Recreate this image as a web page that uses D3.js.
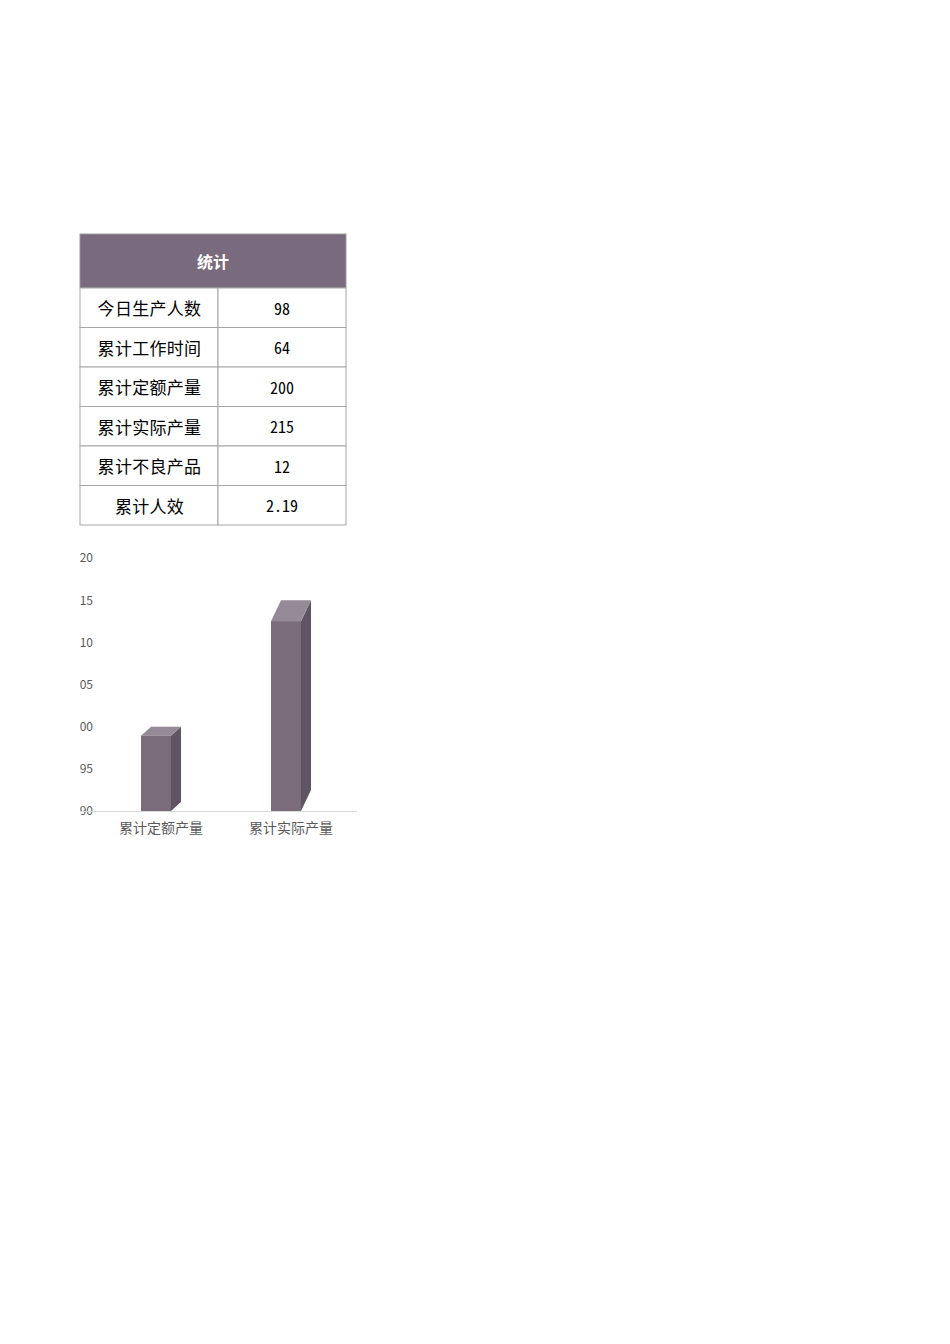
<!DOCTYPE html>
<html>
<head>
  <meta charset="utf-8">
  <script src="https://cdn.jsdelivr.net/npm/d3@7"></script>
  <style>
    body { margin: 0; background: #ffffff; }
    svg { display: block; }
    .cell { font-family: "Noto Sans CJK SC", sans-serif; font-size: 17px; letter-spacing: 0.3px; fill: #000; }
    .num { font-family: "Noto Sans Mono CJK SC", "DejaVu Sans Mono", monospace; font-size: 16px; fill: #000; }
    .axis text { font-family: "Noto Sans CJK SC", sans-serif; fill: #595959; }
  </style>
</head>
<body>
<script>
  // table data
  var tableTitle = '统计';
  var statLabels = ['今日生产人数', '累计工作时间', '累计定额产量', '累计实际产量', '累计不良产品', '累计人效'];
  var statValues = ['98', '64', '200', '215', '12', '2.19'];

  // chart data
  var categories = ['累计定额产量', '累计实际产量'];
  var values = [200, 215];
  var yTicks = [190, 195, 200, 205, 210, 215, 220];

  var W = 950, H = 1344;
  var svg = d3.select('body').append('svg')
      .attr('width', W)
      .attr('height', H);

  //---- table ----
  var tx = 80, tcol = 218, tright = 346,
      headTop = 234, headBottom = 288, rowH = 39.5;
  var headColor = '#796a7d', lineColor = '#a6a6a6';

  svg.append('rect')
     .attr('x', tx).attr('y', headTop)
     .attr('width', tright - tx).attr('height', headBottom - headTop)
     .attr('fill', headColor)
     .attr('stroke', '#9a9a9a');
  svg.append('text')
     .attr('x', (tx + tright) / 2).attr('y', (headTop + headBottom) / 2)
     .attr('text-anchor', 'middle').attr('dominant-baseline', 'central')
     .style('font-family', '"Noto Sans CJK SC", sans-serif')
     .style('font-size', '16px').style('font-weight', 'bold')
     .attr('fill', '#ffffff')
     .text(tableTitle);

  var rows = svg.selectAll('g.row')
      .data(statLabels)
      .enter().append('g')
      .attr('class', 'row')
      .attr('transform', function(d, i) { return 'translate(0,' + (headBottom + i * rowH) + ')'; });

  rows.append('rect')
      .attr('x', tx).attr('width', tcol - tx).attr('height', rowH)
      .attr('fill', '#fff').attr('stroke', lineColor);
  rows.append('rect')
      .attr('x', tcol).attr('width', tright - tcol).attr('height', rowH)
      .attr('fill', '#fff').attr('stroke', lineColor);
  rows.append('text')
      .attr('class', 'cell')
      .attr('x', (tx + tcol) / 2 + 0.5).attr('y', rowH / 2)
      .attr('text-anchor', 'middle').attr('dominant-baseline', 'central')
      .text(function(d) { return d; });
  rows.append('text')
      .attr('class', 'num')
      .attr('x', (tcol + tright) / 2).attr('y', rowH / 2)
      .attr('text-anchor', 'middle').attr('dominant-baseline', 'central')
      .text(function(d, i) { return statValues[i]; });

  //---- 3d column chart ----
  var y = d3.scaleLinear().domain([190, 220]).range([811, 558]);
  var x = d3.scaleBand().domain(categories).range([96, 356]);

  // chart area clipped at left edge (labels are cut off like the sheet)
  svg.append('clipPath').attr('id', 'chartclip')
     .append('rect').attr('x', 80).attr('y', 540).attr('width', 300).attr('height', 320);

  var chart = svg.append('g').attr('clip-path', 'url(#chartclip)');

  // y labels only, no axis line
  var yAxis = chart.append('g')
      .attr('class', 'axis')
      .attr('transform', 'translate(99,0)')
      .call(d3.axisLeft(y).tickValues(yTicks).tickSize(0).tickPadding(6));
  yAxis.select('.domain').remove();
  yAxis.selectAll('text').style('font-size', '12px');

  // base line
  chart.append('line')
       .attr('x1', 80).attr('x2', 357)
       .attr('y1', y(190) + 0.5).attr('y2', y(190) + 0.5)
       .attr('stroke', '#d9d9d9');

  // category labels
  var xAxis = chart.append('g')
      .attr('class', 'axis')
      .attr('transform', 'translate(0,' + y(190) + ')')
      .call(d3.axisBottom(x).tickSize(0).tickPadding(12));
  xAxis.select('.domain').remove();
  xAxis.selectAll('text').style('font-size', '14px');

  var frontW = 30, depthX = 10;
  function depthY(xr) { return 9 + (xr - 171) * 0.092; }  // perspective grows to the right

  var bars = chart.selectAll('g.bar')
      .data(values)
      .enter().append('g')
      .attr('class', 'bar');

  bars.each(function(v, i) {
    var g = d3.select(this);
    var c = x(categories[i]) + x.bandwidth() / 2;
    var x0 = c - 20, x1 = x0 + frontW;
    var dy = depthY(x1);
    var yb = y(190), yt = y(v) + dy;   // back top sits on the value
    // side
    g.append('path')
     .attr('d', 'M' + x1 + ',' + yt + 'L' + (x1 + depthX) + ',' + (yt - dy) +
                'L' + (x1 + depthX) + ',' + (yb - dy) + 'L' + x1 + ',' + yb + 'Z')
     .attr('fill', '#605363');
    // top
    g.append('path')
     .attr('d', 'M' + x0 + ',' + yt + 'L' + (x0 + depthX) + ',' + (yt - dy) +
                'L' + (x1 + depthX) + ',' + (yt - dy) + 'L' + x1 + ',' + yt + 'Z')
     .attr('fill', '#978a98');
    // front
    g.append('rect')
     .attr('x', x0).attr('y', yt)
     .attr('width', frontW).attr('height', yb - yt)
     .attr('fill', '#7b6c7b');
  });
</script>
</body>
</html>
